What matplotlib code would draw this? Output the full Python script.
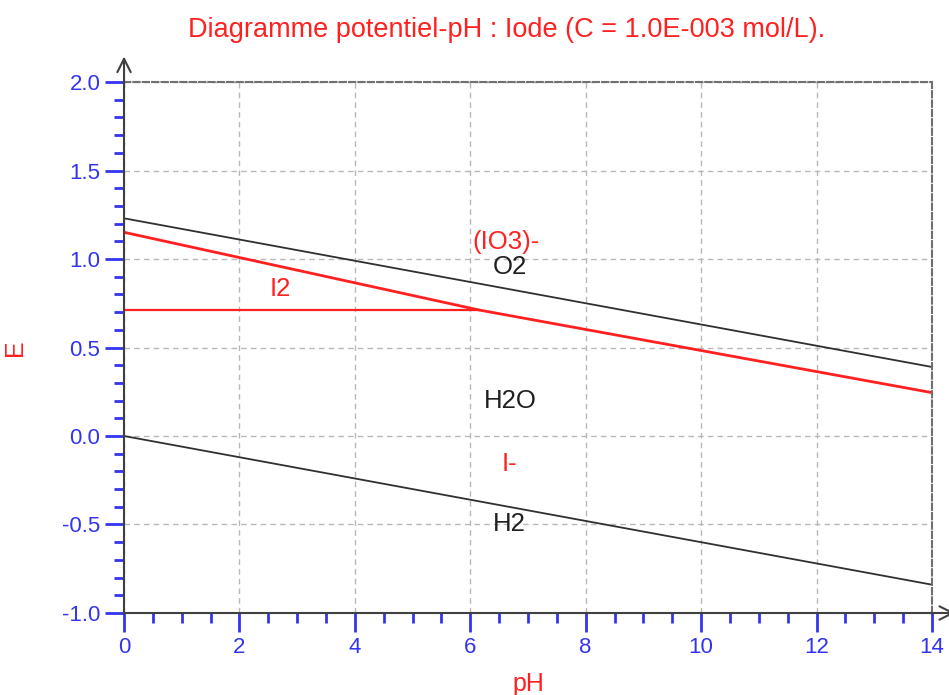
import numpy as np
import matplotlib.pyplot as plt
from matplotlib.ticker import MultipleLocator

plt.rcParams['font.family'] = ['Liberation Sans', 'DejaVu Sans']

# droites frontières (pH, E)
ph_o2 = [0, 14]
e_o2 = [1.23, 0.39]
ph_h2 = [0, 14]
e_h2 = [0.0, -0.84]
ph_io3 = [0, 6.15, 14]
e_io3 = [1.151, 0.712, 0.245]
ph_i2 = [0, 6.15]
e_i2 = [0.712, 0.712]

# étiquettes des domaines
labels = ['(IO3)-', 'O2', 'I2', 'H2O', 'I-', 'H2']
label_ph = [6.62, 6.68, 2.7, 6.7, 6.68, 6.68]
label_e = [1.095, 0.955, 0.83, 0.2, -0.16, -0.5]
label_col = ['#ff2020', '#202020', '#ff2020', '#202020', '#ff2020', '#202020']

blue = '#3434f0'
red = '#ff2020'

fig = plt.figure(figsize=(9.49, 6.95), dpi=100)
ax = fig.add_axes([0.1307, 0.118, 0.8513, 0.764])

ax.plot(ph_o2, e_o2, color='#303030', lw=1.3)
ax.plot(ph_h2, e_h2, color='#303030', lw=1.3)
ax.plot(ph_io3, e_io3, color=red, lw=2)
ax.plot(ph_i2, e_i2, color=red, lw=1.6)

for t, x, y, c in zip(labels, label_ph, label_e, label_col):
    ax.text(x, y, t, color=c, fontsize=18.5, ha='center', va='center')

ax.set_xlim(0, 14)
ax.set_ylim(-1.0, 2.0)
ax.xaxis.set_major_locator(MultipleLocator(2))
ax.xaxis.set_minor_locator(MultipleLocator(0.5))
ax.yaxis.set_major_locator(MultipleLocator(0.5))
ax.yaxis.set_minor_locator(MultipleLocator(0.1))
ax.yaxis.set_major_formatter(lambda v, p: f'{v:.1f}')

ax.tick_params(which='major', length=14, width=2, color=blue, labelcolor=blue,
               labelsize=16, pad=3)
ax.tick_params(which='minor', length=7, width=2, color=blue)

ax.grid(True, which='major', color='#b8b8b8', ls=(0, (4, 3)), lw=1)
for s in ['left', 'bottom']:
    ax.spines[s].set_color('#404040')
    ax.spines[s].set_linewidth(1.5)
for s in ['top', 'right']:
    ax.spines[s].set_color('#707070')
    ax.spines[s].set_linewidth(1.5)
    ax.spines[s].set_linestyle((0, (3, 1.5)))

# flèches des axes
ax.annotate('', xy=(0, 2.16), xytext=(0, 1.95), annotation_clip=False,
            arrowprops=dict(arrowstyle='->', color='#404040', lw=1.5,
                            mutation_scale=24))
ax.annotate('', xy=(14.45, -1.0), xytext=(13.9, -1.0), annotation_clip=False,
            arrowprops=dict(arrowstyle='->', color='#404040', lw=1.5,
                            mutation_scale=24))

ax.set_xlabel('pH', color=red, fontsize=18)
ax.set_ylabel('E', color=red, fontsize=18)
ax.xaxis.set_label_coords(0.5, -0.112)
ax.yaxis.set_label_coords(-0.12, 0.5)
fig.text(0.534, 0.957, 'Diagramme potentiel-pH : Iode (C = 1.0E-003 mol/L).',
         color=red, fontsize=19.5, ha='center', va='center')

fig.savefig('out.png', dpi=100)
